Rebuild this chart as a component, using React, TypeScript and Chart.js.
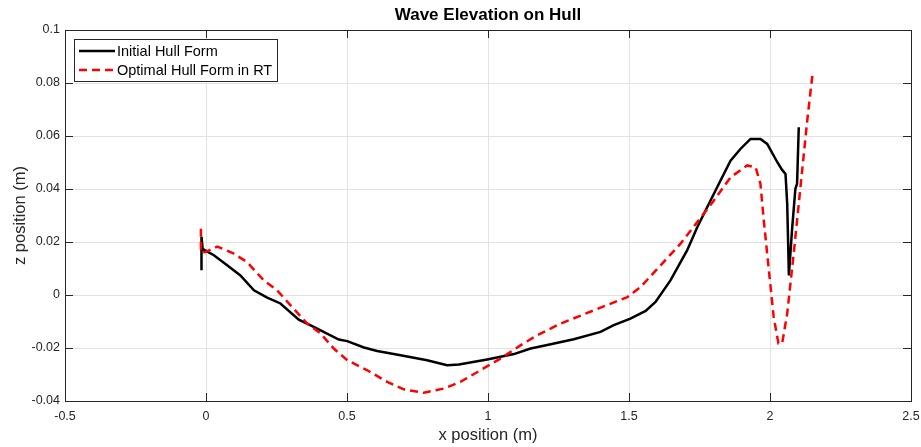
import React, { useEffect, useRef } from "react";
import { Chart, registerables } from "chart.js";

Chart.register(...registerables);

const TITLE = "Wave Elevation on Hull";
const X_TITLE = "x position (m)";
const Y_TITLE = "z position (m)";
const SERIES_NAMES = ["Initial Hull Form", "Optimal Hull Form in RT"];

const X_TICKS = [-0.5, 0, 0.5, 1, 1.5, 2, 2.5];
const Y_TICKS = [-0.04, -0.02, 0, 0.02, 0.04, 0.06, 0.08, 0.1];

const initialX = [
  -0.016, -0.016, -0.012, -0.008, 0.028, 0.075, 0.122, 0.17, 0.217, 0.264, 0.329, 0.382, 0.471, 0.501,
  0.56, 0.607, 0.69, 0.784, 0.855, 0.897, 0.997, 1.092, 1.151, 1.21, 1.304, 1.399, 1.446, 1.505, 1.559,
  1.594, 1.647, 1.706, 1.742, 1.801, 1.86, 1.895, 1.931, 1.966, 1.99, 2.026, 2.043, 2.055, 2.061, 2.067,
  2.078, 2.09, 2.096, 2.102,
];
const initialZ = [
  0.0093, 0.022, 0.0175, 0.0171, 0.015, 0.0112, 0.0074, 0.0018, -0.001, -0.0032, -0.0093, -0.012, -0.0168,
  -0.0174, -0.0198, -0.0211, -0.0227, -0.0246, -0.0265, -0.0262, -0.0243, -0.0223, -0.0202, -0.0189,
  -0.0167, -0.0139, -0.0114, -0.0089, -0.006, -0.0026, 0.0055, 0.0168, 0.0256, 0.0382, 0.0507, 0.0551,
  0.0589, 0.0589, 0.057, 0.0501, 0.0472, 0.0457, 0.0344, 0.0074, 0.0244, 0.0401, 0.042, 0.0633,
];

const optimalX = [
  -0.018, -0.018, -0.002, 0.04, 0.099, 0.146, 0.205, 0.252, 0.3, 0.359, 0.406, 0.453, 0.501, 0.572, 0.643,
  0.701, 0.772, 0.843, 0.902, 0.973, 1.044, 1.115, 1.174, 1.257, 1.375, 1.494, 1.541, 1.612, 1.683, 1.742,
  1.801, 1.86, 1.919, 1.949, 1.966, 1.978, 1.996, 2.013, 2.03, 2.043, 2.061, 2.084, 2.108, 2.132, 2.15,
];
const optimalZ = [
  0.025, 0.016, 0.0162, 0.0183, 0.0156, 0.0124, 0.0055, 0.0018, -0.0039, -0.0108, -0.0145, -0.0202, -0.0246,
  -0.0284, -0.0328, -0.0356, -0.0369, -0.0353, -0.0328, -0.0284, -0.024, -0.019, -0.0152, -0.0108, -0.0058,
  -0.0008, 0.003, 0.0112, 0.0194, 0.0275, 0.0357, 0.0444, 0.0489, 0.0482, 0.042, 0.0281, 0.0093, -0.0083,
  -0.0183, -0.0183, -0.007, 0.0156, 0.0407, 0.0658, 0.0827,
];

const FONT = "'Liberation Sans', Arial, Helvetica, sans-serif";
const AXIS_COLOR = "#262626";
const GRID_COLOR = "#e2e2e2";

const fmt = (v: number) => {
  const n = Number(Number(v).toFixed(3));
  return (n === 0 ? 0 : n).toString();
};

const boxPlugin = {
  id: "matlabBox",
  afterDraw(chart: any) {
    const { ctx, chartArea } = chart;
    const { left, right, top, bottom } = chartArea;
    const xs = chart.scales.x;
    const ys = chart.scales.y;
    ctx.save();
    ctx.strokeStyle = AXIS_COLOR;
    ctx.lineWidth = 1;
    ctx.strokeRect(Math.round(left) + 0.5, Math.round(top) + 0.5, Math.round(right - left), Math.round(bottom - top));
    const tl = 8;
    ctx.beginPath();
    X_TICKS.forEach((t) => {
      const px = Math.round(xs.getPixelForValue(t)) + 0.5;
      ctx.moveTo(px, bottom);
      ctx.lineTo(px, bottom - tl);
      ctx.moveTo(px, top);
      ctx.lineTo(px, top + tl);
    });
    Y_TICKS.forEach((t) => {
      const py = Math.round(ys.getPixelForValue(t)) + 0.5;
      ctx.moveTo(left, py);
      ctx.lineTo(left + tl, py);
      ctx.moveTo(right, py);
      ctx.lineTo(right - tl, py);
    });
    ctx.stroke();

    ctx.fillStyle = "#000";
    ctx.font = `bold 17px ${FONT}`;
    ctx.textAlign = "center";
    ctx.textBaseline = "middle";
    ctx.fillText(TITLE, (left + right) / 2, 15);

    const lx = 74.5, ly = 39.5, lw = 203, lh = 42;
    ctx.fillStyle = "#fff";
    ctx.fillRect(lx, ly, lw, lh);
    ctx.strokeStyle = AXIS_COLOR;
    ctx.lineWidth = 1;
    ctx.strokeRect(lx, ly, lw, lh);
    const rows = [
      { y: 51, color: "#000", dash: [] as number[] },
      { y: 70, color: "#ff0000", dash: [8, 5] },
    ];
    ctx.font = `14.5px ${FONT}`;
    ctx.textAlign = "left";
    rows.forEach((r, i) => {
      ctx.beginPath();
      ctx.setLineDash(r.dash);
      ctx.strokeStyle = r.color;
      ctx.lineWidth = 2.5;
      ctx.moveTo(79, r.y);
      ctx.lineTo(115, r.y);
      ctx.stroke();
      ctx.setLineDash([]);
      ctx.fillStyle = "#000";
      ctx.fillText(SERIES_NAMES[i], 117, r.y + 1);
    });
    ctx.restore();
  },
};

export default function App() {
  const ref = useRef<HTMLCanvasElement>(null);
  useEffect(() => {
    if (!ref.current) return;
    const chart = new Chart(ref.current, {
      type: "scatter",
      data: {
        datasets: [
          {
            label: SERIES_NAMES[0],
            data: initialX.map((x, i) => ({ x, y: initialZ[i] })),
            showLine: true,
            borderColor: "#000000",
            backgroundColor: "#000000",
            borderWidth: 2.5,
            pointRadius: 0,
            tension: 0,
            order: 1,
          },
          {
            label: SERIES_NAMES[1],
            data: optimalX.map((x, i) => ({ x, y: optimalZ[i] })),
            showLine: true,
            borderColor: "#ff0000",
            backgroundColor: "#ff0000",
            borderWidth: 2.5,
            borderDash: [8, 5],
            pointRadius: 0,
            tension: 0,
            order: 0,
          },
        ],
      },
      options: {
        responsive: false,
        animation: false,
        layout: { padding: { top: 30, right: 10, left: 0, bottom: 0 } },
        plugins: {
          legend: { display: false },
          title: { display: false },
          tooltip: { enabled: false },
        },
        scales: {
          x: {
            type: "linear",
            min: -0.5,
            max: 2.5,
            afterBuildTicks: (s: any) => {
              s.ticks = X_TICKS.map((v) => ({ value: v }));
            },
            ticks: {
              callback: (v: any) => fmt(v),
              color: AXIS_COLOR,
              font: { family: FONT, size: 12.5 },
              padding: 8,
              maxRotation: 0,
            },
            grid: { color: GRID_COLOR, drawTicks: false, lineWidth: 1 },
            border: { display: false },
            title: {
              display: true,
              text: X_TITLE,
              color: AXIS_COLOR,
              font: { family: FONT, size: 16.5 },
              padding: { top: 0, bottom: 2 },
            },
            afterFit: (s: any) => {
              s.height = 46;
              s.paddingLeft = 0;
              s.paddingRight = 0;
            },
          },
          y: {
            type: "linear",
            min: -0.04,
            max: 0.1,
            afterBuildTicks: (s: any) => {
              s.ticks = Y_TICKS.map((v) => ({ value: v }));
            },
            ticks: {
              callback: (v: any) => fmt(v),
              color: AXIS_COLOR,
              font: { family: FONT, size: 12.5 },
              padding: 5,
            },
            grid: { color: GRID_COLOR, drawTicks: false, lineWidth: 1 },
            border: { display: false },
            title: {
              display: true,
              text: Y_TITLE,
              color: AXIS_COLOR,
              font: { family: FONT, size: 16.5 },
              padding: { top: 11, bottom: 0 },
            },
            afterFit: (s: any) => {
              s.width = 65;
              s.paddingTop = 0;
              s.paddingBottom = 0;
            },
          },
        },
      },
      plugins: [boxPlugin],
    });
    return () => chart.destroy();
  }, []);
  return (
    <div style={{ position: "absolute", left: 0, top: 0, width: 921, height: 447, background: "#fff" }}>
      <canvas ref={ref} width={921} height={447} style={{ display: "block" }} />
    </div>
  );
}
